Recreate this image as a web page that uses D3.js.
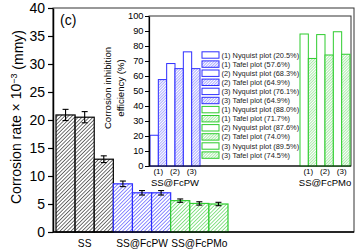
<!DOCTYPE html>
<html>
<head>
<meta charset="utf-8">
<script src="https://cdn.jsdelivr.net/npm/d3@7"></script>
<style>
  body { margin: 0; background: #fff; }
  svg text { font-family: "Liberation Sans", Arial, sans-serif; fill: #000; }
</style>
</head>
<body>
<svg id="chart" width="360" height="251"></svg>
<script>
//main bar chart data
var mainCats = ["SS-1", "SS-2", "SS-3", "PW-1", "PW-2", "PW-3", "PMo-1", "PMo-2", "PMo-3"];
var mainGroup = ["SS", "SS", "SS", "SS@FcPW", "SS@FcPW", "SS@FcPW", "SS@FcPMo", "SS@FcPMo", "SS@FcPMo"];
var mainRate = [20.9, 20.5, 13.0, 8.6, 7.0, 7.0, 5.6, 5.1, 5.0];
var mainErr = [1.0, 1.0, 0.6, 0.5, 0.4, 0.4, 0.3, 0.3, 0.3];
var groupNames = ["SS", "SS@FcPW", "SS@FcPMo"];
var mainTicks = [0, 5, 10, 15, 20, 25, 30, 35, 40];

//inset data
var insetSamples = ["SS@FcPW", "SS@FcPMo"];
var insetSets = ["(1)", "(2)", "(3)"];
var nyquistPW = [20.5, 68.3, 76.1];
var tafelPW = [57.6, 64.9, 64.9];
var nyquistPMo = [88.0, 87.6, 89.5];
var tafelPMo = [71.7, 74.0, 74.5];
var insetTicks = [0, 10, 20, 30, 40, 50, 60, 70, 80, 90, 100];

var colBlack = "#000000";
var colBlue = "#2e2eff";
var colGreen = "#2ecc2e";
var groupColor = {"SS": colBlack, "SS@FcPW": colBlue, "SS@FcPMo": colGreen};

var svg = d3.select("#chart");
var defs = svg.append("defs");

//diagonal hatch patterns
function makeHatch(id, color, size, width) {
    var p = defs.append("pattern")
        .attr("id", id)
        .attr("patternUnits", "userSpaceOnUse")
        .attr("width", size)
        .attr("height", size)
        .attr("patternTransform", "rotate(45)");
    p.append("rect").attr("width", size).attr("height", size).attr("fill", "#fff");
    p.append("line")
        .attr("x1", 0).attr("y1", 0).attr("x2", 0).attr("y2", size)
        .attr("stroke", color).attr("stroke-width", width);
}
makeHatch("hBlack", colBlack, 2.6, 1.1);
makeHatch("hBlue", colBlue, 2.6, 1.1);
makeHatch("hGreen", colGreen, 2.6, 1.1);
makeHatch("iBlue", colBlue, 2.0, 0.8);
makeHatch("iGreen", colGreen, 2.0, 0.8);
var mainHatch = {"SS": "hBlack", "SS@FcPW": "hBlue", "SS@FcPMo": "hGreen"};

//---------- main plot ----------
var mLeft = 53, mRight = 354, mTop = 8, mBottom = 232;

var y = d3.scaleLinear().domain([0, 40]).range([mBottom, mTop]);
var x = d3.scaleBand().domain(mainCats).range([56, 228]).padding(0);

var data = mainCats.map(function (c, i) {
    return {cat: c, group: mainGroup[i], v: mainRate[i], e: mainErr[i]};
});

//frame
svg.append("rect")
    .attr("x", mLeft).attr("y", mTop)
    .attr("width", mRight - mLeft).attr("height", mBottom - mTop)
    .attr("fill", "none").attr("stroke", "#333").attr("stroke-width", 1);

svg.selectAll(".bar")
    .data(data)
    .enter()
    .append("rect")
    .attr("class", "bar")
    .attr("x", function (d) { return x(d.cat); })
    .attr("width", x.bandwidth())
    .attr("y", function (d) { return y(d.v); })
    .attr("height", function (d) { return y(0) - y(d.v); })
    .attr("fill", function (d) { return "url(#" + mainHatch[d.group] + ")"; })
    .attr("stroke", function (d) { return groupColor[d.group]; })
    .attr("stroke-width", 1.2);

//error bars
var err = svg.selectAll(".err")
    .data(data)
    .enter()
    .append("g")
    .attr("class", "err")
    .attr("stroke", "#000")
    .attr("stroke-width", 1.1);
err.append("line")
    .attr("x1", function (d) { return x(d.cat) + x.bandwidth() / 2; })
    .attr("x2", function (d) { return x(d.cat) + x.bandwidth() / 2; })
    .attr("y1", function (d) { return y(d.v + d.e); })
    .attr("y2", function (d) { return y(d.v - d.e); });
[1, -1].forEach(function (s) {
    err.append("line")
        .attr("x1", function (d) { return x(d.cat) + x.bandwidth() / 2 - 3; })
        .attr("x2", function (d) { return x(d.cat) + x.bandwidth() / 2 + 3; })
        .attr("y1", function (d) { return y(d.v + s * d.e); })
        .attr("y2", function (d) { return y(d.v + s * d.e); });
});

//axes
var yAxis = d3.axisLeft(y).tickValues(mainTicks).tickSize(5).tickSizeOuter(0).tickPadding(3);
var gy = svg.append("g").attr("transform", "translate(" + mLeft + ",0)").call(yAxis);
gy.selectAll("text").style("font-size", "14px");
gy.select(".domain").attr("stroke-width", 1.5);
gy.selectAll(".tick line").attr("stroke-width", 1.2);

svg.append("line")
    .attr("x1", mLeft).attr("x2", mRight)
    .attr("y1", mBottom).attr("y2", mBottom)
    .attr("stroke", "#000").attr("stroke-width", 1.5);

//group labels
svg.selectAll(".grpLabel")
    .data(groupNames)
    .enter()
    .append("text")
    .attr("class", "grpLabel")
    .attr("x", function (g) {
        var cats = mainCats.filter(function (c, i) { return mainGroup[i] == g; });
        return (x(cats[0]) + x(cats[cats.length - 1]) + x.bandwidth()) / 2;
    })
    .attr("y", 246.5)
    .attr("text-anchor", "middle")
    .style("font-size", "10.2px")
    .text(function (g) { return g; });

//y title
var yt = svg.append("text")
    .attr("transform", "translate(16," + ((mTop + mBottom) / 2 - 3) + ") rotate(-90)")
    .attr("text-anchor", "middle")
    .attr("dy", "0.35em")
    .style("font-size", "14px");
yt.append("tspan").text("Corrosion rate \u00d7 10");
yt.append("tspan").attr("dy", "-0.45em").style("font-size", "9px").text("\u22123");
yt.append("tspan").attr("dy", "0.45em").text(" (mmy)");

svg.append("text")
    .attr("x", 60).attr("y", 25)
    .style("font-size", "14px")
    .text("(c)");

//---------- inset ----------
var iLeft = 149, iRight = 351, iTop = 16, iBottom = 166;
var yi = d3.scaleLinear().domain([0, 100]).range([iBottom, iTop]);
var xi = d3.scaleBand().domain(d3.range(24)).range([150, 350]).padding(0);

svg.append("rect")
    .attr("x", iLeft).attr("y", iTop)
    .attr("width", iRight - iLeft).attr("height", iBottom - iTop)
    .attr("fill", "#fff").attr("stroke", "#333").attr("stroke-width", 1);

//build inset bars: Nyquist then Tafel for each set, PW in slots 0-5, PMo in 18-23
var insetBars = [];
var insetLegend = [];
[[nyquistPW, tafelPW, colBlue, "iBlue", 0], [nyquistPMo, tafelPMo, colGreen, "iGreen", 18]].forEach(function (s) {
    for (var k = 0; k < 3; k++) {
        insetBars.push({slot: s[4] + 2 * k, v: s[0][k], color: s[2], fill: "#fff"});
        insetBars.push({slot: s[4] + 2 * k + 1, v: s[1][k], color: s[2], fill: "url(#" + s[3] + ")"});
        insetLegend.push({label: insetSets[k] + " Nyquist plot (" + s[0][k].toFixed(1) + "%)", color: s[2], fill: "#fff"});
        insetLegend.push({label: insetSets[k] + " Tafel plot (" + s[1][k].toFixed(1) + "%)", color: s[2], fill: "url(#" + s[3] + ")"});
    }
});

svg.selectAll(".ibar")
    .data(insetBars)
    .enter()
    .append("rect")
    .attr("class", "ibar")
    .attr("x", function (d) { return xi(d.slot); })
    .attr("width", xi.bandwidth())
    .attr("y", function (d) { return yi(d.v); })
    .attr("height", function (d) { return yi(0) - yi(d.v); })
    .attr("fill", function (d) { return d.fill; })
    .attr("stroke", function (d) { return d.color; })
    .attr("stroke-width", 1);

var yiAxis = d3.axisLeft(yi).tickValues(insetTicks).tickSize(4).tickSizeOuter(0).tickPadding(1.5);
var giy = svg.append("g").attr("transform", "translate(" + iLeft + ",0)").call(yiAxis);
giy.selectAll("text").style("font-size", "9.3px");
giy.select(".domain").attr("stroke-width", 1.2);

svg.append("line")
    .attr("x1", iLeft).attr("x2", iRight)
    .attr("y1", iBottom).attr("y2", iBottom)
    .attr("stroke", "#000").attr("stroke-width", 1.2);

//set labels under inset bars
insetSamples.forEach(function (name, g) {
    var base = g == 0 ? 0 : 18;
    insetSets.forEach(function (lab, k) {
        svg.append("text")
            .attr("x", xi(base + 2 * k + 1))
            .attr("y", 174)
            .attr("text-anchor", "middle")
            .style("font-size", "8px")
            .text(lab);
    });
    svg.append("text")
        .attr("x", (xi(base) + xi(base + 5) + xi.bandwidth()) / 2)
        .attr("y", 185.5)
        .attr("text-anchor", "middle")
        .style("font-size", "9.5px")
        .text(name);
});

//inset y title
var iyt = svg.append("text")
    .attr("transform", "translate(108," + ((iTop + iBottom) / 2 - 3) + ") rotate(-90)")
    .attr("text-anchor", "middle")
    .style("font-size", "9.6px");
iyt.append("tspan").attr("x", 0).attr("dy", "0.35em").text("Corrosion inhibition");
iyt.append("tspan").attr("x", 0).attr("dy", "1.35em").text("efficiency (%)");

//legend
var leg = svg.selectAll(".leg")
    .data(insetLegend)
    .enter()
    .append("g")
    .attr("class", "leg")
    .attr("transform", function (d, i) { return "translate(202," + (55 + 9.1 * i) + ")"; });
leg.append("rect")
    .attr("x", 0).attr("y", -3.2)
    .attr("width", 17).attr("height", 6.4)
    .attr("fill", function (d) { return d.fill; })
    .attr("stroke", function (d) { return d.color; })
    .attr("stroke-width", 1);
leg.append("text")
    .attr("x", 19.5)
    .attr("dy", "0.35em")
    .style("font-size", "7.4px")
    .style("fill", "#222")
    .text(function (d) { return d.label; });
</script>
</body>
</html>
